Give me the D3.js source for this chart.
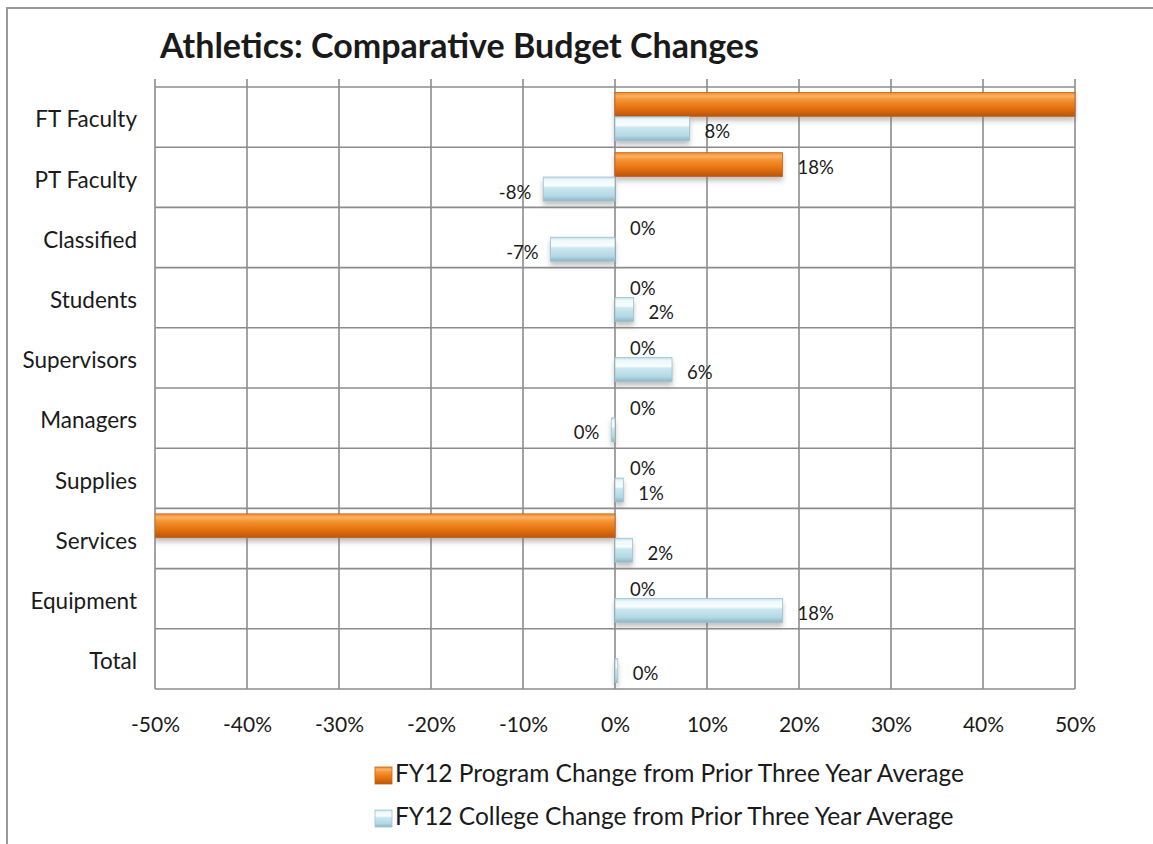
<!DOCTYPE html>
<html>
<head>
<meta charset="utf-8">
<script src="https://cdn.jsdelivr.net/npm/d3@7/dist/d3.min.js"></script>
<style>
  html, body { margin: 0; padding: 0; background: #fff; }
  svg { display: block; font-family: Lato, "Open Sans", sans-serif; }
</style>
</head>
<body>
<svg id="chart" width="1153" height="844"></svg>
<script>
// Budget categories (top to bottom)
const categories = ["FT Faculty", "PT Faculty", "Classified", "Students", "Supervisors",
                    "Managers", "Supplies", "Services", "Equipment", "Total"];

// FY12 program change from prior three-year average (null = no value)
const programChange = [0.62, 0.182, 0, 0, 0, 0, 0, -0.56, 0, null];

// FY12 college change from prior three-year average
const collegeChange = [0.081, -0.078, -0.07, 0.02, 0.062, -0.004, 0.009, 0.019, 0.182, 0.003];

const seriesNames = ["FY12 Program Change from Prior Three Year Average",
                     "FY12 College Change from Prior Three Year Average"];

const xTicks = [-0.5, -0.4, -0.3, -0.2, -0.1, 0, 0.1, 0.2, 0.3, 0.4, 0.5];

const title = "Athletics: Comparative Budget Changes";

const svg = d3.select("#chart");
const W = 1153, H = 844;

const plot = { left: 155, right: 1075, top: 87, bottom: 689 };

const x = d3.scaleLinear().domain([-0.5, 0.5]).range([plot.left, plot.right]);
const y = d3.scaleBand().domain(categories).range([plot.top, plot.bottom]).padding(0);
const inner = d3.scaleBand().domain([0, 1]).range([5, y.bandwidth() - 6]).padding(0.02);

// percent with a plain hyphen; values that round to zero show as "0%"
const pct = v => {
  const r = Math.round(v * 100);
  return (r === 0 ? 0 : r) + "%";
};

// ---------- defs: gradients and shadow ----------
const defs = svg.append("defs");

const orangeGrad = defs.append("linearGradient").attr("id", "gOrange")
  .attr("x1", 0).attr("y1", 0).attr("x2", 0).attr("y2", 1);
[[0, "#f28a32"], [0.15, "#fbb064"], [0.32, "#f3922f"], [0.7, "#e26d0c"], [1, "#b65609"]]
  .forEach(([o, c]) => orangeGrad.append("stop").attr("offset", o).attr("stop-color", c));

const blueGrad = defs.append("linearGradient").attr("id", "gBlue")
  .attr("x1", 0).attr("y1", 0).attr("x2", 0).attr("y2", 1);
[[0, "#bfe0ea"], [0.12, "#eef8fb"], [0.35, "#f9fdfe"], [0.45, "#cbe7f0"], [0.8, "#b3d8e4"], [1, "#8db5c4"]]
  .forEach(([o, c]) => blueGrad.append("stop").attr("offset", o).attr("stop-color", c));

const shadow = defs.append("filter").attr("id", "shadow")
  .attr("x", "-5%").attr("y", "-30%").attr("width", "110%").attr("height", "190%");
shadow.append("feDropShadow").attr("dx", 0).attr("dy", 4).attr("stdDeviation", 2.5)
  .attr("flood-color", "#777").attr("flood-opacity", 0.45);

const clip = defs.append("clipPath").attr("id", "plotClip");
clip.append("rect").attr("x", plot.left).attr("y", plot.top - 2)
  .attr("width", plot.right - plot.left + 3).attr("height", plot.bottom - plot.top + 12);

// ---------- outer frame ----------
svg.append("path")
  .attr("d", `M7,${H} L7,8 L${W},8`)
  .attr("fill", "none").attr("stroke", "#9a9a9a").attr("stroke-width", 2);

// ---------- title ----------
svg.append("text")
  .attr("x", 160).attr("y", 58)
  .attr("font-size", 34).attr("font-weight", "bold").attr("fill", "#1a1a1a")
  .text(title);

// ---------- gridlines ----------
const grid = svg.append("g").attr("stroke", "#8c8c8c").attr("stroke-width", 1.6);

grid.selectAll("line.v").data(xTicks).join("line")
  .attr("class", "v")
  .attr("x1", d => x(d)).attr("x2", d => x(d))
  .attr("y1", plot.top - 8).attr("y2", plot.bottom);

const rowEdges = categories.map(c => y(c)).concat([plot.bottom]);
grid.selectAll("line.h").data(rowEdges).join("line")
  .attr("class", "h")
  .attr("x1", plot.left).attr("x2", plot.right)
  .attr("y1", d => d).attr("y2", d => d);

// ---------- axis labels ----------
const xAxis = d3.axisBottom(x).tickValues(xTicks).tickFormat(pct).tickSize(0).tickPadding(0);
const xg = svg.append("g").attr("transform", `translate(0,${plot.bottom + 43})`).call(xAxis);
xg.select(".domain").remove();
xg.selectAll("text").attr("font-size", 21).attr("fill", "#1a1a1a")
  .attr("font-family", "Lato, sans-serif").attr("dy", 0);

const yAxis = d3.axisLeft(y).tickSize(0).tickPadding(0);
const yg = svg.append("g").attr("transform", `translate(${plot.left - 18},3)`).call(yAxis);
yg.select(".domain").remove();
yg.selectAll("text").attr("font-size", 22.5).attr("fill", "#1a1a1a")
  .attr("font-family", "Lato, sans-serif");

// ---------- bars ----------
const series = [
  { key: 0, values: programChange, fill: "url(#gOrange)", edge: "#c8620c" },
  { key: 1, values: collegeChange, fill: "url(#gBlue)", edge: "#9cc2d0" }
];

const barsG = svg.append("g").attr("clip-path", "url(#plotClip)");
const labelsG = svg.append("g");

series.forEach(s => {
  const rows = categories.map((c, i) => ({ c, v: s.values[i] })).filter(d => d.v !== null);
  const clamp = v => Math.max(-0.5, Math.min(0.5, v));

  barsG.append("g").attr("filter", "url(#shadow)")
    .selectAll("rect").data(rows).join("rect")
    .attr("x", d => x(Math.min(0, clamp(d.v))))
    .attr("y", d => y(d.c) + inner(s.key))
    .attr("width", d => Math.max(Math.abs(x(clamp(d.v)) - x(0)), d.v === 0 ? 0 : 2))
    .attr("height", inner.bandwidth())
    .attr("fill", s.fill)
    .attr("stroke", s.edge).attr("stroke-width", 0.8);

  // value labels, placed just beyond the bar end; omitted when the bar runs off the axis
  labelsG.selectAll(null).data(rows.filter(d => d.v >= -0.5 && d.v <= 0.5)).join("text")
    .attr("x", d => d.v < 0 ? x(d.v) - 12 : x(d.v) + 15)
    .attr("y", d => y(d.c) + inner(s.key) + inner.bandwidth() / 2 + 5)
    .attr("dominant-baseline", "middle")
    .attr("text-anchor", d => d.v < 0 ? "end" : "start")
    .attr("font-size", 18.5).attr("fill", "#1a1a1a")
    .text(d => pct(d.v));
});

// ---------- legend ----------
const legend = svg.append("g");
const legendRows = [
  { name: seriesNames[0], fill: "url(#gOrange)", edge: "#c8620c", y: 776 },
  { name: seriesNames[1], fill: "url(#gBlue)", edge: "#9cc2d0", y: 819 }
];
legendRows.forEach(r => {
  legend.append("rect").attr("x", 375).attr("y", r.y - 9).attr("width", 17).attr("height", 17)
    .attr("fill", r.fill).attr("stroke", r.edge).attr("stroke-width", 0.8);
  legend.append("text").attr("x", 395).attr("y", r.y)
    .attr("dominant-baseline", "middle")
    .attr("font-size", 24.5).attr("fill", "#1a1a1a")
    .text(r.name);
});
</script>
</body>
</html>
